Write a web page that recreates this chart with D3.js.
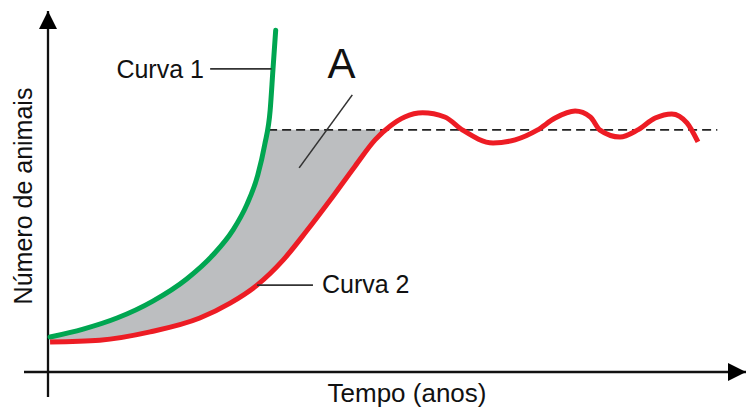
<!DOCTYPE html>
<html>
<head>
<meta charset="utf-8">
<script src="https://cdn.jsdelivr.net/npm/d3@7"></script>
<style>
  body { margin: 0; background: #fff; }
  text { font-family: "Liberation Sans", Arial, sans-serif; fill: #111; }
</style>
</head>
<body>
<div id="chart"></div>
<script>
// Curva 1 (crescimento exponencial)
var curva1Tempo = [0.3, 5.1, 10.0, 15.2, 20.1, 23.9, 26.8, 28.8, 30.4, 31.4, 32.2, 32.6, 33.0];
var curva1Valor = [10.1, 12.4, 15.6, 20.5, 26.9, 33.8, 41.0, 48.3, 56.9, 65.6, 75.7, 87.3, 98.8];

// Curva 2 (crescimento real, oscila em torno da capacidade)
var curva2Tempo = [0.3, 7.5, 14.8, 22.0, 26.4, 30.3, 34.1, 37.5, 40.9, 44.5, 47.4, 49.6, 51.7, 54.3, 57.5,
                   60.1, 64.5, 67.7, 70.9, 73.5, 76.4, 78.6, 80.0, 82.9, 85.4, 88.0, 90.4, 92.6, 94.2];
var curva2Valor = [8.7, 9.2, 11.6, 15.6, 19.9, 25.1, 32.4, 40.8, 49.7, 59.5, 67.1, 71.1, 73.7, 74.9, 73.7,
                   69.9, 66.2, 67.1, 69.9, 73.4, 75.4, 73.7, 69.9, 67.9, 69.9, 73.4, 74.6, 72.0, 66.5];

// capacidade de suporte (linha tracejada)
var capacidade = 70;
var capacidadeInicio = 31.9;
var capacidadeFim = 97.0;

var width = 746, height = 407;

var svg = d3.select("#chart").append("svg")
  .attr("width", width)
  .attr("height", height);

var x = d3.scaleLinear().domain([0, 100]).range([48, 738]);
var y = d3.scaleLinear().domain([0, 100]).range([372, 26]);

var curva1 = curva1Tempo.map(function(t, i) { return [t, curva1Valor[i]]; });
var curva2 = curva2Tempo.map(function(t, i) { return [t, curva2Valor[i]]; });

var line = d3.line()
  .x(function(d) { return x(d[0]); })
  .y(function(d) { return y(d[1]); })
  .curve(d3.curveMonotoneX);

// area A: entre as curvas, abaixo da capacidade
svg.append("clipPath").attr("id", "abaixoK")
  .append("rect")
  .attr("x", 0).attr("y", y(capacidade))
  .attr("width", width).attr("height", height - y(capacidade));

var volta = curva2.slice(0, 14).reverse();
svg.append("path")
  .attr("d", line(curva1) + line(volta).replace(/^M/, "L") + "Z")
  .attr("clip-path", "url(#abaixoK)")
  .style("fill", "#bcbec0")
  .style("stroke", "none");

// eixos com setas
var defs = svg.append("defs");
defs.append("marker")
  .attr("id", "seta")
  .attr("viewBox", "0 0 10 10")
  .attr("refX", 10).attr("refY", 5)
  .attr("markerWidth", 8).attr("markerHeight", 9)
  .attr("markerUnits", "strokeWidth")
  .attr("orient", "auto")
  .append("path")
  .attr("d", "M0,0 L10,5 L0,10 Z")
  .style("fill", "#000");

svg.append("line")
  .attr("x1", x(0)).attr("y1", 397)
  .attr("x2", x(0)).attr("y2", 11)
  .style("stroke", "#111").style("stroke-width", 2.3)
  .attr("marker-end", "url(#seta)");

svg.append("line")
  .attr("x1", 24).attr("y1", y(0))
  .attr("x2", 746).attr("y2", y(0))
  .style("stroke", "#111").style("stroke-width", 2.3)
  .attr("marker-end", "url(#seta)");

// linha tracejada
svg.append("line")
  .attr("x1", x(capacidadeInicio)).attr("y1", y(capacidade))
  .attr("x2", x(capacidadeFim)).attr("y2", y(capacidade))
  .style("stroke", "#222").style("stroke-width", 1.8)
  .style("stroke-dasharray", "9,5");

// curvas
svg.append("path")
  .datum(curva1)
  .attr("d", line)
  .style("fill", "none")
  .style("stroke", "#00a651")
  .style("stroke-width", 5)
  .style("stroke-linecap", "round");

svg.append("path")
  .datum(curva2)
  .attr("d", line)
  .style("fill", "none")
  .style("stroke", "#ed1c24")
  .style("stroke-width", 5)
  .style("stroke-linecap", "butt");

// rotulos e linhas de chamada
var chamadas = [
  { x1: 23.5, y1: 87.6, x2: 32.4, y2: 87.6 },
  { x1: 30.3, y1: 25.1, x2: 38.4, y2: 25.1 },
  { x1: 44.1, y1: 80.1, x2: 36.4, y2: 59.0 }
];
svg.selectAll("line.chamada")
  .data(chamadas).enter()
  .append("line")
  .attr("class", "chamada")
  .attr("x1", function(d) { return x(d.x1); })
  .attr("y1", function(d) { return y(d.y1); })
  .attr("x2", function(d) { return x(d.x2); })
  .attr("y2", function(d) { return y(d.y2); })
  .style("stroke", "#333")
  .style("stroke-width", 1.6);

svg.append("text")
  .attr("x", x(22.6)).attr("y", y(85.0))
  .attr("text-anchor", "end")
  .style("font-size", "25px")
  .text("Curva 1");

svg.append("text")
  .attr("x", x(39.7)).attr("y", y(22.8))
  .style("font-size", "25px")
  .text("Curva 2");

svg.append("text")
  .attr("x", x(40.5)).attr("y", y(85.0))
  .style("font-size", "42px")
  .text("A");

svg.append("text")
  .attr("x", 407).attr("y", 402)
  .attr("text-anchor", "middle")
  .style("font-size", "26px")
  .text("Tempo (anos)");

svg.append("text")
  .attr("transform", "translate(32,196) rotate(-90)")
  .attr("text-anchor", "middle")
  .style("font-size", "25px")
  .text("Número de animais");
</script>
</body>
</html>
